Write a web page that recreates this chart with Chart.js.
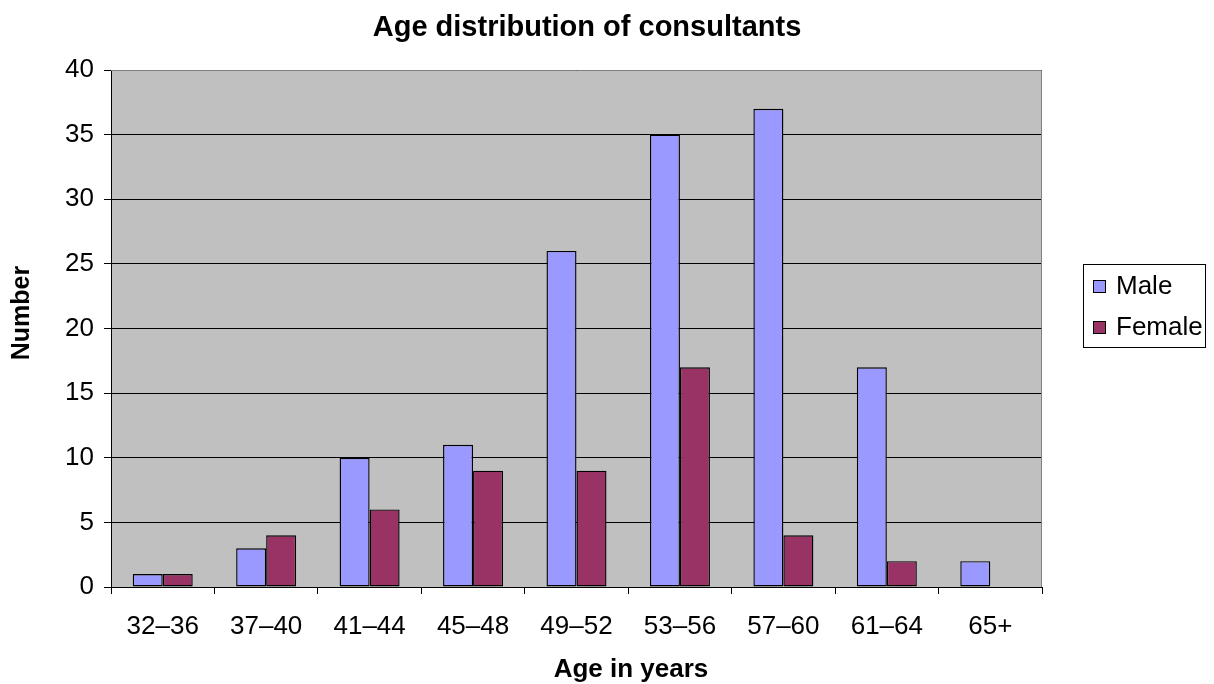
<!DOCTYPE html>
<html>
<head>
<meta charset="utf-8">
<title>Age distribution of consultants</title>
<script src="https://cdn.jsdelivr.net/npm/chart.js@4.4.1/dist/chart.umd.min.js"></script>
<style>
  html, body { margin: 0; padding: 0; background: #fff; }
  #wrap { width: 1214px; height: 684px; }
</style>
</head>
<body>
<div id="wrap"><canvas id="ageChart" width="1214" height="684"></canvas></div>
<script>
// age bands and counts per band
const ageBands = ["32–36", "37–40", "41–44", "45–48", "49–52", "53–56", "57–60", "61–64", "65+"];
const maleCounts = [1, 3, 10, 11, 26, 35, 37, 17, 2];
const femaleCounts = [1, 4, 6, 9, 9, 17, 4, 2, 0];

const FONT = "'Liberation Sans', Arial, Helvetica, sans-serif";
const MALE_COLOR = "#9999FF";
const FEMALE_COLOR = "#993366";

// gray plot background + frame, titles and boxed legend
const excelLook = {
  id: "excelLook",
  beforeDraw(chart) {
    const { ctx, chartArea: a } = chart;
    ctx.save();
    ctx.fillStyle = "#C0C0C0";
    ctx.fillRect(a.left, a.top, a.right - a.left, a.bottom - a.top);
    ctx.restore();
  },
  afterDraw(chart) {
    const { ctx, chartArea: a } = chart;
    ctx.save();

    // top / right frame of plot area
    ctx.strokeStyle = "#808080";
    ctx.lineWidth = 1;
    ctx.beginPath();
    ctx.moveTo(a.left, a.top + 0.5);
    ctx.lineTo(a.right - 0.5, a.top + 0.5);
    ctx.lineTo(a.right - 0.5, a.bottom);
    ctx.stroke();

    ctx.fillStyle = "#000";
    ctx.textAlign = "center";
    ctx.textBaseline = "middle";

    // chart title
    ctx.font = "bold 29px " + FONT;
    ctx.fillText("Age distribution of consultants", 587, 28);

    // x axis title
    ctx.font = "bold 26px " + FONT;
    ctx.fillText("Age in years", 631, 670);

    // y axis title
    ctx.save();
    ctx.translate(22, 313);
    ctx.rotate(-Math.PI / 2);
    ctx.font = "bold 25px " + FONT;
    ctx.fillText("Number", 0, 0);
    ctx.restore();

    // legend
    const lx = 1083, ly = 264, lw = 123, lh = 84;
    ctx.fillStyle = "#fff";
    ctx.fillRect(lx, ly, lw, lh);
    ctx.strokeStyle = "#000";
    ctx.strokeRect(lx + 0.5, ly + 0.5, lw - 1, lh - 1);

    ctx.font = "26px " + FONT;
    ctx.textAlign = "left";
    chart.data.datasets.forEach((ds, i) => {
      const cy = ly + 22 + i * 41;
      ctx.fillStyle = ds.backgroundColor;
      ctx.fillRect(lx + 10, cy - 6, 12, 12);
      ctx.strokeStyle = "#000";
      ctx.strokeRect(lx + 10.5, cy - 5.5, 12, 12);
      ctx.fillStyle = "#000";
      ctx.fillText(ds.label, lx + 33, cy + 1);
    });

    ctx.restore();
  }
};

new Chart(document.getElementById("ageChart"), {
  type: "bar",
  data: {
    labels: ageBands,
    datasets: [
      { label: "Male", data: maleCounts, backgroundColor: MALE_COLOR, borderColor: "#000", borderWidth: 1.4 },
      { label: "Female", data: femaleCounts, backgroundColor: FEMALE_COLOR, borderColor: "#000", borderWidth: 1.4 }
    ]
  },
  options: {
    responsive: false,
    animation: false,
    devicePixelRatio: 1,
    layout: { padding: { left: 0, right: 172, top: 70, bottom: 0 } },
    datasets: {
      bar: { categoryPercentage: 0.58, barPercentage: 1.0, borderSkipped: false }
    },
    plugins: {
      legend: { display: false },
      title: { display: false },
      tooltip: { enabled: false }
    },
    scales: {
      x: {
        afterFit(scale) { scale.height = 97; },
        grid: { drawOnChartArea: false, color: "#000", tickLength: 7, offset: true },
        border: { color: "#000", width: 1 },
        ticks: { color: "#000", font: { family: FONT, size: 26 }, padding: 17, maxRotation: 0 }
      },
      y: {
        min: 0,
        max: 40,
        afterFit(scale) { scale.width = 111; },
        grid: { color: "#000", tickLength: 7 },
        border: { color: "#000", width: 1 },
        ticks: { stepSize: 5, color: "#000", font: { family: FONT, size: 26 }, padding: 10 }
      }
    }
  },
  plugins: [excelLook]
});
</script>
</body>
</html>
